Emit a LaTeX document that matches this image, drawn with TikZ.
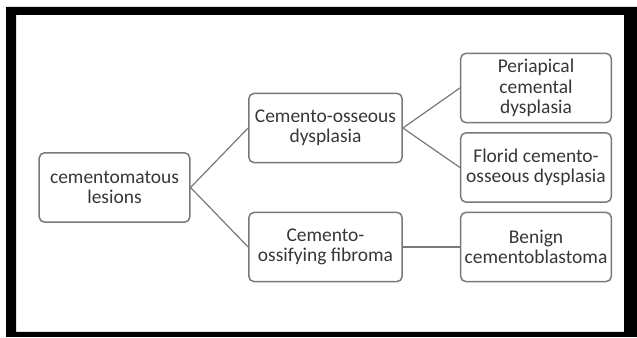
\documentclass[tikz,border=0pt]{standalone}
\usepackage{fontspec}
\setmainfont{Carlito}
\definecolor{boxline}{RGB}{120,120,120}
\definecolor{txt}{RGB}{55,55,55}
\begin{document}
\begin{tikzpicture}[x=0.75pt,y=-0.75pt,
  box/.style={draw=boxline,line width=1.1pt,rounded corners=4pt,fill=white,
    align=center,text=txt,inner sep=1pt,
    font=\fontsize{14.6}{15.2}\selectfont},
  wA/.style={minimum width=113pt,minimum height=52pt},
  wB/.style={minimum width=115pt,minimum height=52pt},
  link/.style={draw=boxline,line width=0.9pt}]
\useasboundingbox (0,0) rectangle (637,338);
\fill[black,even odd rule] (6,7) rectangle (637,337) (16,15) rectangle (624,332);
\node[box,wA] (a) at (114.5,187.5) {cementomatous\\lesions};
\node[box,wB] (b) at (325.5,128) {Cemento-osseous\\dysplasia};
\node[box,wB] (c) at (325.5,247) {Cemento-\\ossifying fibroma};
\node[box,wA] (d) at (536,88) {Periapical\\cemental\\dysplasia};
\node[box,wA] (e) at (536,167.5) {Florid cemento-\\osseous dysplasia};
\node[box,wA] (f) at (536,247) {Benign\\cementoblastoma};
\draw[link] (a.east) -- (b.west);
\draw[link] (a.east) -- (c.west);
\draw[link] (b.east) -- (d.west);
\draw[link] (b.east) -- (e.west);
\draw[link] (c.east) -- (f.west);
\end{tikzpicture}
\end{document}
